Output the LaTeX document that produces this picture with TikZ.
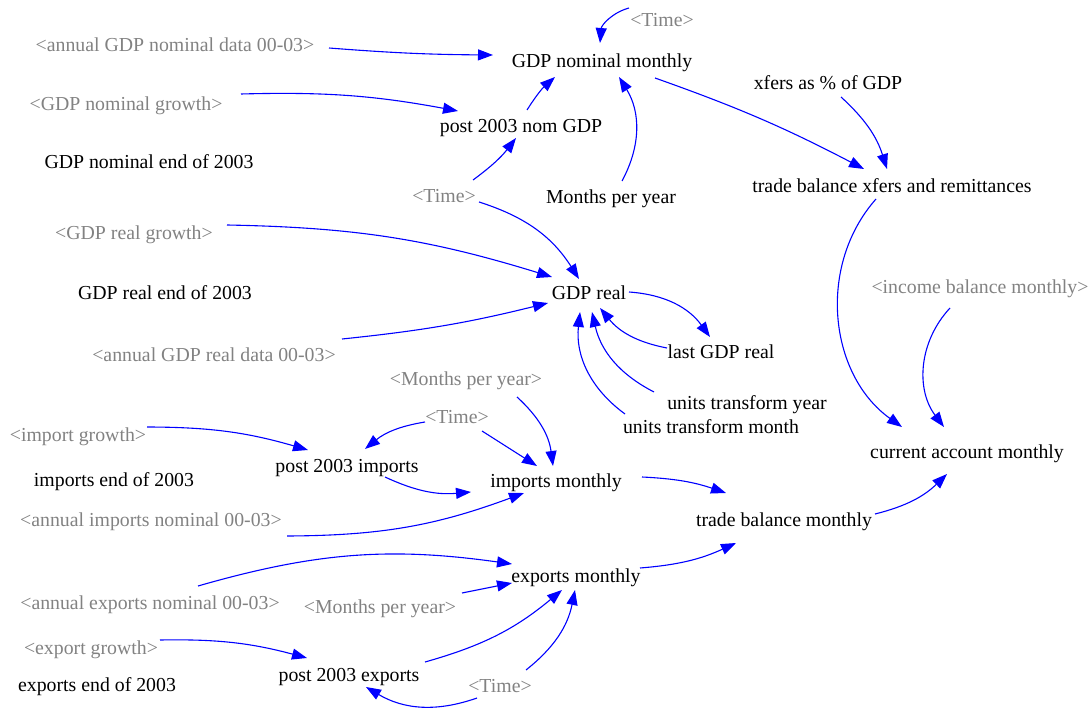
\documentclass[tikz,border=0pt]{standalone}
\usepackage{fontspec}
\setmainfont{Liberation Serif}
\usetikzlibrary{calc,arrows.meta}
\definecolor{vgrey}{RGB}{130,130,130}
\definecolor{vblue}{RGB}{0,0,255}
\tikzset{
  var/.style={font=\fontsize{19.8}{24}\selectfont, text=black, inner sep=0pt, text height=13pt, text depth=0pt},
  shadow/.style={var, text=vgrey},
  lk/.style={draw=vblue, line width=1.1pt, -{Triangle[length=15pt,width=11pt]}, fill=none}
}
\begin{document}
\begin{tikzpicture}[x=1pt,y=1pt]
\useasboundingbox (0,0) rectangle (1092,-711);
% black variables
\node[var] (gnm)   at (602,-61)  {GDP nominal monthly};
\node[var] (p2n)   at (521,-126) {post 2003 nom GDP};
\node[var] (gnend) at (149,-162) {GDP nominal end of 2003};
\node[var] (mpy)   at (611,-197) {Months per year};
\node[var] (xf)    at (828,-83)  {xfers as \% of GDP};
\node[var] (tbx)   at (892,-186) {trade balance xfers and remittances};
\node[var] (grend) at (165,-293) {GDP real end of 2003};
\node[var] (gr)    at (589,-293) {GDP real};
\node[var] (lgr)   at (721,-352) {last GDP real};
\node[var] (uty)   at (747,-403) {units transform year};
\node[var] (utm)   at (711,-427) {units transform month};
\node[var] (cam)   at (967,-452) {current account monthly};
\node[var] (p2i)   at (347,-466) {post 2003 imports};
\node[var] (iend)  at (114,-480) {imports end of 2003};
\node[var] (im)    at (556,-481) {imports monthly};
\node[var] (tbm)   at (784,-520) {trade balance monthly};
\node[var] (em)    at (576,-576) {exports monthly};
\node[var] (p2e)   at (349,-675) {post 2003 exports};
\node[var] (eend)  at (97,-685)  {exports end of 2003};
% shadow variables
\node[shadow] (t1)   at (662,-20)  {<Time>};
\node[shadow] (agn)  at (175,-45)  {<annual GDP nominal data 00-03>};
\node[shadow] (gng)  at (126,-104) {<GDP nominal growth>};
\node[shadow] (t2)   at (444,-196) {<Time>};
\node[shadow] (grg)  at (134,-233) {<GDP real growth>};
\node[shadow] (agr)  at (214,-355) {<annual GDP real data 00-03>};
\node[shadow] (mpy2) at (466,-379) {<Months per year>};
\node[shadow] (t3)   at (457,-417) {<Time>};
\node[shadow] (ig)   at (78,-435)  {<import growth>};
\node[shadow] (ain)  at (151,-520) {<annual imports nominal 00-03>};
\node[shadow] (aen)  at (150,-603) {<annual exports nominal 00-03>};
\node[shadow] (mpy3) at (380,-607) {<Months per year>};
\node[shadow] (eg)   at (91,-648)  {<export growth>};
\node[shadow] (t4)   at (500,-686) {<Time>};
\node[shadow] (ibm)  at (980,-287) {<income balance monthly>};
% connectors
\draw[lk] ($(agn)+(154,-3)$) to[bend right=2] ($(gnm)+(-109,6)$);
\draw[lk] ($(gng)+(115,10)$) to[bend left=6] ($(p2n)+(-63,15)$);
\draw[lk] ($(p2n)+(6,16)$) to[bend left=8] ($(gnm)+(-47,-16)$);
\draw[lk] ($(t2)+(29,16)$) to[bend right=8] ($(p2n)+(-5,-12)$);
\draw[lk] ($(mpy)+(11,16)$) to[bend right=30] ($(gnm)+(17,-16)$);
\draw[lk] ($(t1)+(-33,12)$) to[bend right=35] ($(gnm)+(-2,18)$);
\draw[lk] ($(gnm)+(53,-17)$) to[bend left=4] ($(tbx)+(-28,17)$);
\draw[lk] ($(xf)+(13,-14)$) to[bend left=15] ($(tbx)+(-5,17)$);
\draw[lk] ($(tbx)+(-16,-13)$) to[bend right=48] ($(cam)+(-65,25)$);
\draw[lk] ($(ibm)+(-30,-21)$) to[bend right=40] ($(cam)+(-23,25)$);
\draw[lk] ($(tbm)+(91,6)$) to[bend right=15] ($(cam)+(-20,-22)$);
\draw[lk] ($(t2)+(35,-6)$) to[bend left=20] ($(gr)+(-10,14)$);
\draw[lk] ($(grg)+(93,8)$) to[bend left=8] ($(gr)+(-37,16)$);
\draw[lk] ($(agr)+(128,16)$) to[bend right=4] ($(gr)+(-41,-10)$);
\draw[lk] ($(gr)+(40,1)$) to[bend left=25] ($(lgr)+(-11,15)$);
\draw[lk] ($(lgr)+(-54,4)$) to[bend left=20] ($(gr)+(11,-15)$);
\draw[lk] ($(uty)+(-93,11)$) to[bend left=25] ($(gr)+(3,-19)$);
\draw[lk] ($(utm)+(-86,13)$) to[bend left=30] ($(gr)+(-9,-19)$);
\draw[lk] ($(mpy2)+(51,-18)$) to[bend left=20] ($(im)+(-3,15)$);
\draw[lk] ($(t3)+(-32,-5)$) to[bend right=15] ($(p2i)+(18,17)$);
\draw[lk] ($(t3)+(25,-14)$) to ($(im)+(-19,15)$);
\draw[lk] ($(ig)+(69,8)$) to[bend left=8] ($(p2i)+(-39,16)$);
\draw[lk] ($(p2i)+(38,-11)$) to[bend right=15] ($(im)+(-85,-11)$);
\draw[lk] ($(ain)+(136,-16)$) to[bend right=10] ($(im)+(-32,-12)$);
\draw[lk] ($(im)+(86,4)$) to[bend left=8] ($(tbm)+(-58,27)$);
\draw[lk] ($(em)+(64,8)$) to[bend right=10] ($(tbm)+(-48,-23)$);
\draw[lk] ($(aen)+(48,17)$) to[bend left=12] ($(em)+(-64,12)$);
\draw[lk] ($(mpy3)+(82,14)$) to ($(em)+(-64,-7)$);
\draw[lk] ($(eg)+(69,8)$) to[bend left=8] ($(p2e)+(-42,17)$);
\draw[lk] ($(p2e)+(76,13)$) to[bend right=12] ($(em)+(-14,-14)$);
\draw[lk] ($(t4)+(26,16)$) to[bend right=20] ($(em)+(-1,-14)$);
\draw[lk] ($(t4)+(-23,-12)$) to[bend left=25] ($(p2e)+(17,-12)$);
\end{tikzpicture}
\end{document}
